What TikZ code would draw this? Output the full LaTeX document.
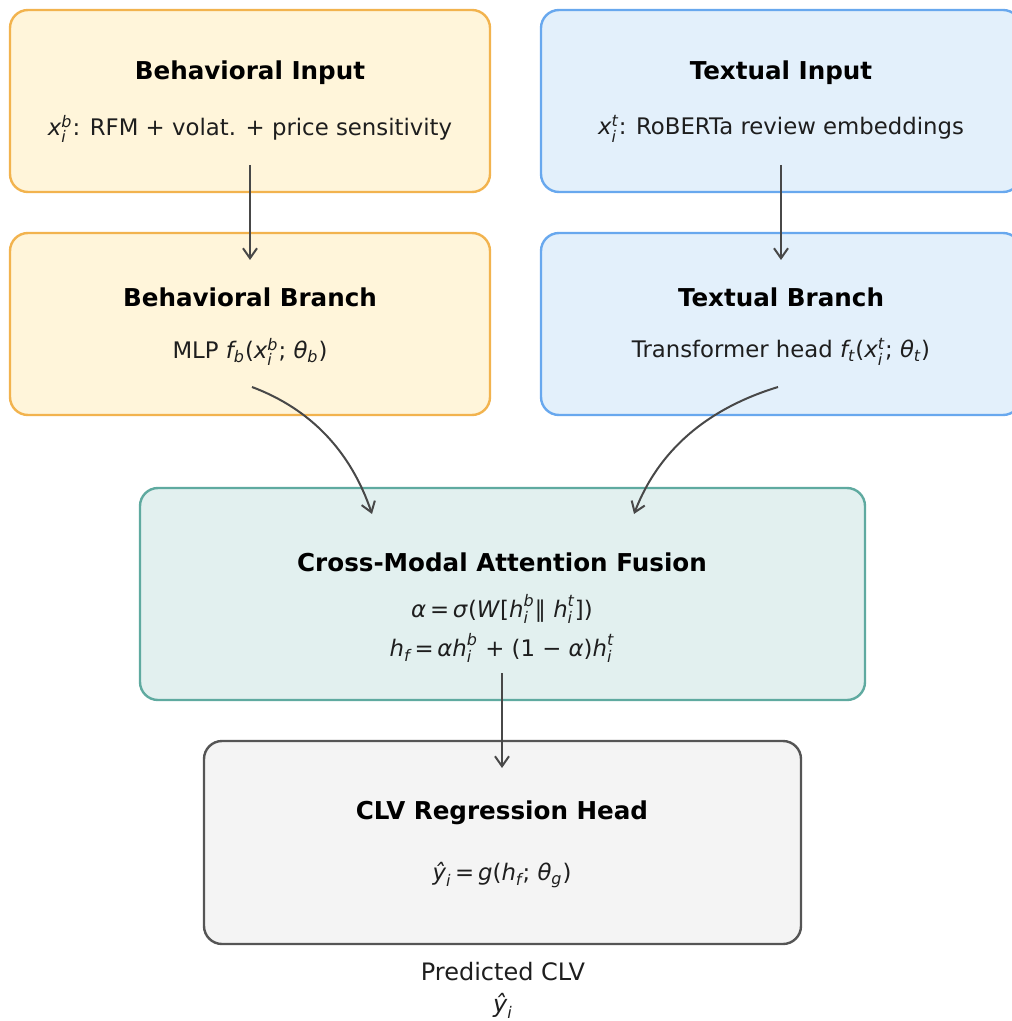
\documentclass[tikz,border=0pt]{standalone}
\usepackage{fontspec}
\usepackage{amsmath}
\setmainfont{DejaVu Sans}
\usetikzlibrary{arrows.meta}
\definecolor{yelfill}{HTML}{FFF5DA}
\definecolor{yeldraw}{HTML}{F2B34E}
\definecolor{bluefill}{HTML}{E3F0FB}
\definecolor{bluedraw}{HTML}{68A8EE}
\definecolor{tealfill}{HTML}{E2F0EF}
\definecolor{tealdraw}{HTML}{5FAAA0}
\definecolor{grayfill}{HTML}{F4F4F4}
\definecolor{graydraw}{HTML}{555555}
\definecolor{arrowcol}{HTML}{484848}
\definecolor{textcol}{HTML}{1E1E1E}
\newcommand{\vi}[1]{\textit{#1}}
\newcommand{\sbs}[2]{\ensuremath{\text{\itshape #1}_{\text{\itshape #2}}}}
\newcommand{\sbsp}[3]{\ensuremath{\text{\itshape #1}_{\text{\itshape #2}}^{\text{\itshape #3}}}}
\tikzset{
  box/.style={rectangle, rounded corners=9pt, line width=1.2pt, inner sep=0pt},
  smallbox/.style={box, minimum width=240pt, minimum height=91pt},
  titletext/.style={font=\fontsize{12.3}{14}\selectfont\bfseries, text=black, inner sep=0pt},
  bodytext/.style={font=\fontsize{11.4}{13}\selectfont, text=textcol, inner sep=0pt},
  conn/.style={draw=arrowcol, line width=1pt, -{Straight Barb[length=5pt,width=7pt,line width=1pt]}}
}
\begin{document}
\begin{tikzpicture}[x=0.5pt,y=-0.5pt]
\useasboundingbox (0,0) rectangle (1011,1021);
% boxes
\node[smallbox, fill=yelfill, draw=yeldraw] (bi) at (250,101) {};
\node[smallbox, fill=bluefill, draw=bluedraw] (ti) at (781,101) {};
\node[smallbox, fill=yelfill, draw=yeldraw] (bb) at (250,324) {};
\node[smallbox, fill=bluefill, draw=bluedraw] (tb) at (781,324) {};
\node[box, fill=tealfill, draw=tealdraw, minimum width=362.5pt, minimum height=106pt] (fu) at (502.5,594) {};
\node[box, fill=grayfill, draw=graydraw, minimum width=298.5pt, minimum height=101.5pt] (clv) at (502.5,842.5) {};
% texts
\node[titletext] (bit) at (250,73) {Behavioral Input};
\node[bodytext] (bib) at (250,129) {\sbsp{x}{i}{b}: RFM + volat. + price sensitivity};
\node[titletext] (tit) at (781,73) {Textual Input};
\node[bodytext] (tib) at (781,129) {\sbsp{x}{i}{t}: RoBERTa review embeddings};
\node[titletext] (bbt) at (250,297) {Behavioral Branch};
\node[bodytext] (bbb) at (250,352) {MLP \sbs{f}{b}(\sbsp{x}{i}{b}; \sbs{θ}{b})};
\node[titletext] (tbt) at (781,297) {Textual Branch};
\node[bodytext] (tbb) at (781,352) {Transformer head \sbs{f}{t}(\sbsp{x}{i}{t}; \sbs{θ}{t})};
\node[titletext] (fut) at (502,562) {Cross-Modal Attention Fusion};
\node[bodytext] (fub1) at (502,609) {\vi{α}\,=\,\vi{σ}(\vi{W}[\sbsp{h}{i}{b}∥ \sbsp{h}{i}{t}])};
\node[bodytext] (fub2) at (502,648) {\sbs{h}{f}\,=\,\vi{α}\sbsp{h}{i}{b} + (1 − \vi{α})\sbsp{h}{i}{t}};
\node[titletext] (clvt) at (502,813) {CLV Regression Head};
\node[bodytext] (clvb) at (502,875) {\sbs{ŷ}{i}\,=\,\vi{g}(\sbs{h}{f}; \sbs{θ}{g})};
\node[bodytext, font=\fontsize{12}{14}\selectfont] (pred) at (503,972) {Predicted CLV};
\node[bodytext, font=\fontsize{12}{14}\selectfont] (yhat) at (503,1006) {\sbs{ŷ}{i}};
% connector endpoints
\coordinate (biout) at (250,165);
\coordinate (bbin) at (250,260);
\coordinate (tiout) at (781,165);
\coordinate (tbin) at (781,260);
\coordinate (bbout) at (252,387);
\coordinate (fuinl) at (372,514);
\coordinate (tbout) at (778,387);
\coordinate (fuinr) at (634,514);
\coordinate (fuout) at (502,673);
\coordinate (clvin) at (502,768);
% connectors
\draw[conn] (biout) -- (bbin);
\draw[conn] (tiout) -- (tbin);
\draw[conn] (bbout) .. controls (310.7,409) and (350.7,451.3) .. (fuinl);
\draw[conn] (tbout) .. controls (706,409) and (658,451.3) .. (fuinr);
\draw[conn] (fuout) -- (clvin);
\end{tikzpicture}
\end{document}
